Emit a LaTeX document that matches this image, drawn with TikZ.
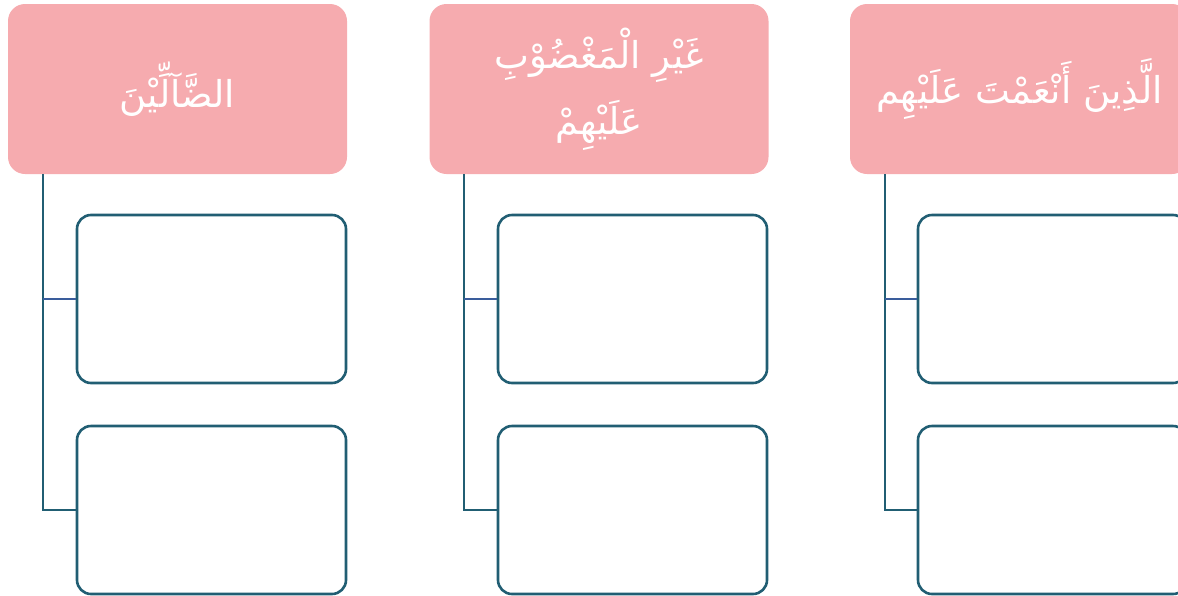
\documentclass[tikz,border=0pt]{standalone}
\usepackage{fontspec}
\newfontfamily\arabicfont[Script=Arabic]{DejaVu Sans}
\TeXXeTstate=1
\definecolor{hdrpink}{HTML}{F6ABAF}
\definecolor{teal}{HTML}{215E73}
\definecolor{linkblue}{HTML}{3A5D9C}
\tikzset{
  header/.style={fill=hdrpink, draw=none, rounded corners=17pt, minimum width=339pt, minimum height=170pt, inner sep=0pt, text=white, font=\arabicfont\fontsize{37}{66}\selectfont, align=center},
  emptybox/.style={draw=teal, line width=2.6pt, fill=white, rounded corners=14pt, minimum width=269pt, minimum height=168pt, inner sep=0pt},
  link/.style={draw=teal, line width=2.6pt},
  bluelink/.style={draw=linkblue, line width=2.6pt}
}
\begin{document}
\begin{tikzpicture}[x=1pt,y=-1pt]
\useasboundingbox (0,0) rectangle (1178,595);
\clip (0,0) rectangle (1178,595);
% column 1
\node[header] (h1) at (177.5,89) {\beginR الضَّآلِّيْنَ\endR};
\node[emptybox] (a1) at (211.5,299) {};
\node[emptybox] (a2) at (211.5,510) {};
\coordinate (c1) at (43,174);
\draw[link] (c1) |- (a2.west);
\draw[bluelink] (c1 |- a1.west) -- (a1.west);
% column 2
\node[header] (h2) at (599,89) {\beginR غَيْرِ الْمَغْضُوْبِ\endR\\ \beginR عَلَيْهِمْ\endR};
\node[emptybox] (b1) at (632.5,299) {};
\node[emptybox] (b2) at (632.5,510) {};
\coordinate (c2) at (464,174);
\draw[link] (c2) |- (b2.west);
\draw[bluelink] (c2 |- b1.west) -- (b1.west);
% column 3
\node[header] (h3) at (1019.5,89) {\beginR الَّذِينَ أَنْعَمْتَ عَلَيْهِم\endR};
\node[emptybox] (d1) at (1052.5,299) {};
\node[emptybox] (d2) at (1052.5,510) {};
\coordinate (c3) at (885,174);
\draw[link] (c3) |- (d2.west);
\draw[bluelink] (c3 |- d1.west) -- (d1.west);
\end{tikzpicture}
\end{document}
